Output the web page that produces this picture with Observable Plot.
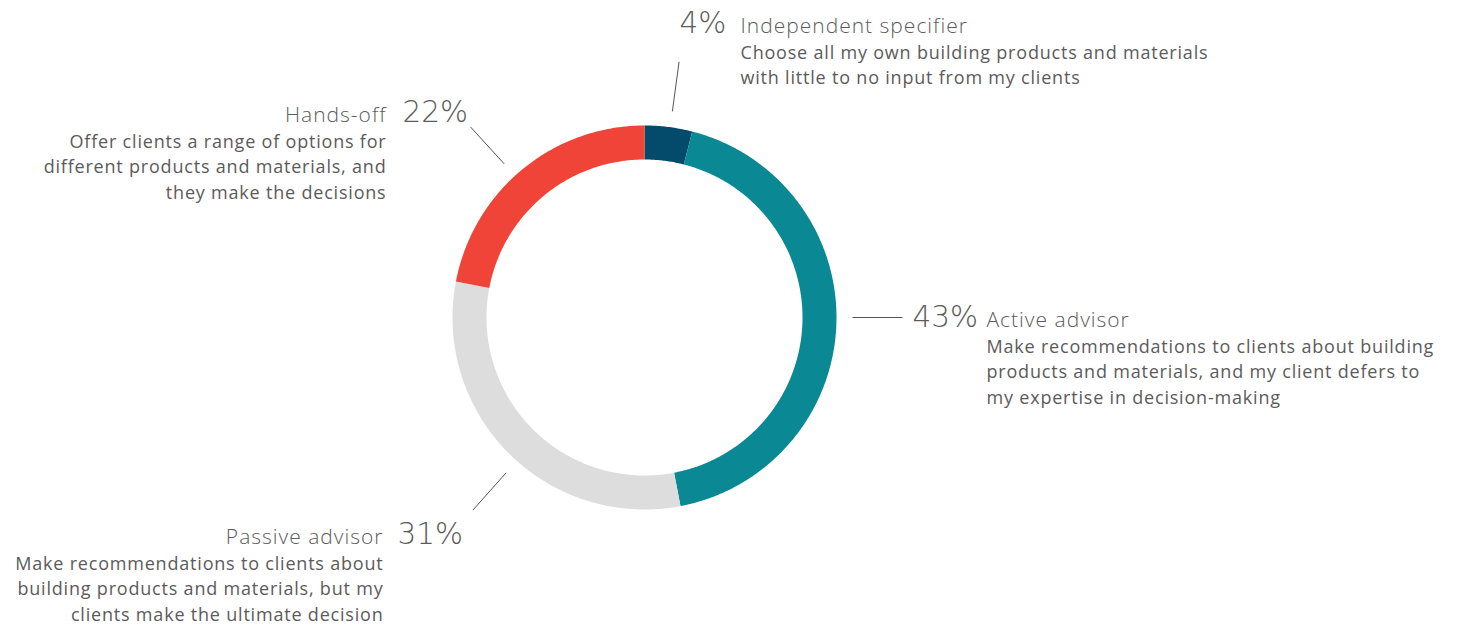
<!DOCTYPE html>
<html>
<head>
<meta charset="utf-8">
<script src="https://cdn.jsdelivr.net/npm/d3@7"></script>
<script src="https://cdn.jsdelivr.net/npm/@observablehq/plot@0.6"></script>
<style>
  html, body { margin: 0; padding: 0; background: #ffffff; }
  #chart svg { display: block; }
</style>
</head>
<body>
<div id="chart"></div>
<script>
// ---- data ----
const categories = ["Independent specifier", "Active advisor", "Passive advisor", "Hands-off"];
const shares = [4, 43, 31, 22];
const percentLabels = ["4%", "43%", "31%", "22%"];
const descriptions = [
  "Choose all my own building products and materials\nwith little to no input from my clients",
  "Make recommendations to clients about building\nproducts and materials, and my client defers to\nmy expertise in decision-making",
  "Make recommendations to clients about\nbuilding products and materials, but my\nclients make the ultimate decision",
  "Offer clients a range of options for\ndifferent products and materials, and\nthey make the decisions"
];
const colors = ["#034a6b", "#0a8893", "#dcdddc", "#ef4437"];

// ---- layout (pixels / degrees) ----
const W = 1460, H = 624;
const CX = 644, CY = 317;            // donut centre on the page
const R_OUT = 192, R_IN = 158;       // ring radii
const LEAD_IN = 208, LEAD_OUT = 258; // leader line radii
const TEXT_COLOR = "#5b5b5b";
const PCT_SIZE = 29.5, TITLE_SIZE = 21, DESC_SIZE = 18, DESC_LH = 25.5;
const labelLayout = {
  "Independent specifier": {side: "right", leaderDeg: 7.7,   pctX: 679, titleX: 740, base: 32},
  "Active advisor":        {side: "right", leaderDeg: 90,    pctX: 912, titleX: 986, base: 326},
  "Passive advisor":       {side: "left",  leaderDeg: 221.7, pctX: 397, titleX: 383, base: 543},
  "Hands-off":             {side: "left",  leaderDeg: 317.6, pctX: 402, titleX: 386, base: 121}
};

// ---- derived ----
const rows = categories.map((c, i) => ({cat: c, share: shares[i], pct: percentLabels[i], desc: descriptions[i]}));
const arcs = d3.pie().sort(null).value(d => d.share).startAngle(0).endAngle(2 * Math.PI)(rows);

const polar = (r, a) => ({x: r * Math.sin(a), y: -r * Math.cos(a)});

const ringPts = [];
for (const a of arcs) {
  const n = Math.max(2, Math.ceil((a.endAngle - a.startAngle) / (Math.PI / 360)));
  for (let k = 0; k <= n; ++k) {
    const t = a.startAngle + (a.endAngle - a.startAngle) * k / n;
    ringPts.push({cat: a.data.cat, ...polar(R_OUT, t)});
  }
  for (let k = n; k >= 0; --k) {
    const t = a.startAngle + (a.endAngle - a.startAngle) * k / n;
    ringPts.push({cat: a.data.cat, ...polar(R_IN, t)});
  }
}

const leaders = arcs.map(a => {
  const m = labelLayout[a.data.cat].leaderDeg * Math.PI / 180;
  const p0 = polar(LEAD_IN, m), p1 = polar(LEAD_OUT, m);
  return {cat: a.data.cat, x1: p0.x, y1: p0.y, x2: p1.x, y2: p1.y};
});

const pctRows = rows.map(d => {
  const L = labelLayout[d.cat];
  return {text: d.pct, x: L.pctX - CX, y: L.base - CY};
});
const titleRows = rows.map(d => {
  const L = labelLayout[d.cat];
  return {text: d.cat, x: L.titleX - CX, y: L.base - CY, anchor: L.side === "right" ? "start" : "end"};
});
const descRows = rows.map(d => {
  const L = labelLayout[d.cat];
  const n = d.desc.split("\n").length;
  return {text: d.desc, x: L.titleX - CX, y: L.base + 26 + (n - 1) * DESC_LH - CY, anchor: L.side === "right" ? "start" : "end"};
});

const chart = Plot.plot({
  width: W,
  height: H,
  margin: 0,
  x: {domain: [-CX, W - CX], range: [0, W], axis: null},
  y: {domain: [-CY, H - CY], range: [0, H], axis: null},
  color: {domain: categories, range: colors},
  style: {background: "#ffffff", overflow: "visible"},
  marks: [
    Plot.line(ringPts, {x: "x", y: "y", z: "cat", fill: "cat", stroke: "none", curve: "linear"}),
    Plot.link(leaders, {x1: "x1", y1: "y1", x2: "x2", y2: "y2", stroke: "#555555", strokeWidth: 1}),
    Plot.text(pctRows, {x: "x", y: "y", text: "text", textAnchor: "start", lineAnchor: "bottom",
      fontFamily: "DejaVu Sans", fontWeight: 200, fontSize: PCT_SIZE, fill: TEXT_COLOR}),
    Plot.text(titleRows.filter(d => d.anchor === "start"), {x: "x", y: "y", text: "text", textAnchor: "start", lineAnchor: "bottom",
      fontFamily: "Open Sans", fontWeight: 300, fontSize: TITLE_SIZE, fill: TEXT_COLOR}),
    Plot.text(titleRows.filter(d => d.anchor === "end"), {x: "x", y: "y", text: "text", textAnchor: "end", lineAnchor: "bottom",
      fontFamily: "Open Sans", fontWeight: 300, fontSize: TITLE_SIZE, fill: TEXT_COLOR}),
    Plot.text(descRows.filter(d => d.anchor === "start"), {x: "x", y: "y", text: "text", textAnchor: "start", lineAnchor: "bottom",
      lineHeight: DESC_LH / DESC_SIZE, fontFamily: "Open Sans", fontWeight: 400, fontSize: DESC_SIZE, fill: TEXT_COLOR}),
    Plot.text(descRows.filter(d => d.anchor === "end"), {x: "x", y: "y", text: "text", textAnchor: "end", lineAnchor: "bottom",
      lineHeight: DESC_LH / DESC_SIZE, fontFamily: "Open Sans", fontWeight: 400, fontSize: DESC_SIZE, fill: TEXT_COLOR})
  ]
});

// letter spacing to match the wider typeface of the original
const textGroups = chart.querySelectorAll('g[aria-label="text"]');
textGroups.forEach((g, i) => {
  if (i === 1 || i === 2) g.style.letterSpacing = "1px";
  else if (i >= 3) g.style.letterSpacing = "0.8px";
});
document.getElementById("chart").appendChild(chart);
</script>
</body>
</html>
